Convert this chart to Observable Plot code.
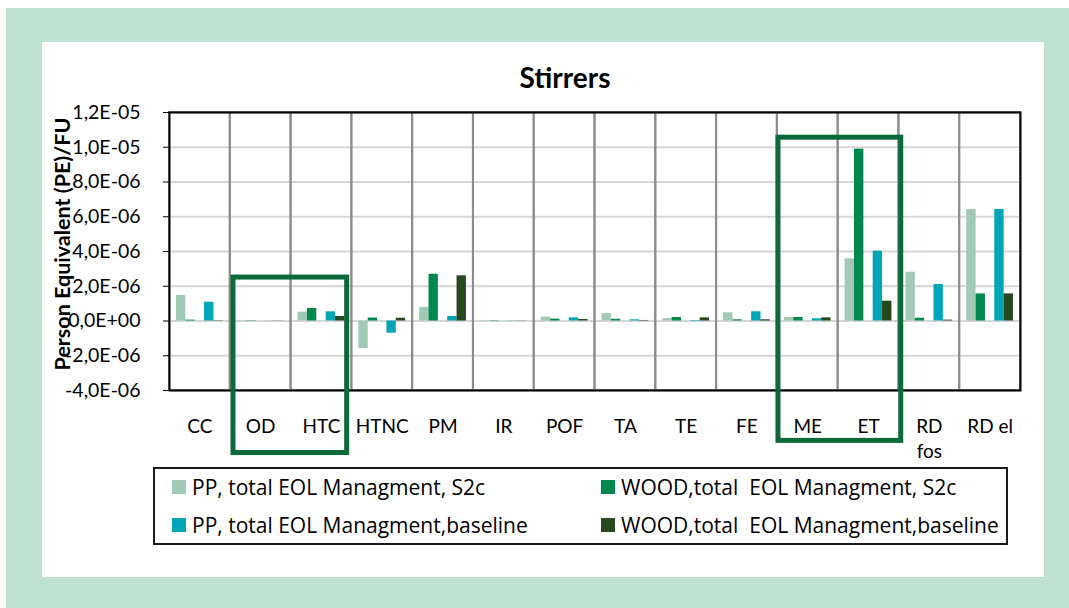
<!DOCTYPE html>
<html>
<head>
<meta charset="utf-8">
<script src="https://cdn.jsdelivr.net/npm/d3@7"></script>
<script src="https://cdn.jsdelivr.net/npm/@observablehq/plot@0.6"></script>
<style>
  html, body { margin: 0; padding: 0; }
  body { width: 1069px; height: 608px; position: relative; overflow: hidden; background: #fff; font-family: Lato, "Noto Sans", sans-serif; }
  #mint { position: absolute; left: 6px; top: 8px; right: 0; bottom: 0; background: #bfe1d1; }
  #white { position: absolute; left: 42px; top: 42px; width: 1002px; height: 535px; background: #fff; }
  #title { position: absolute; left: 465px; top: 60px; width: 200px; text-align: center; font-weight: bold; font-size: 28px; line-height: 34px; color: #000; }
  #chart { position: absolute; left: 0; top: 0; }
  #legend { position: absolute; left: 153px; top: 467px; width: 855px; height: 78px; border: 2px solid #1a1a1a; box-sizing: border-box; }
  .item { position: absolute; display: flex; align-items: center; height: 26px; font-family: "Open Sans", Lato, sans-serif; font-size: 21px; white-space: pre; color: #000; }
  .sw { width: 14px; height: 14px; margin-right: 6px; flex: none; }
</style>
</head>
<body>
<div id="mint"></div>
<div id="white"></div>
<div id="title">Stirrers</div>
<div id="chart"></div>
<div id="legend"></div>
<script>
// ---- data ----
const categories = ["CC","OD","HTC","HTNC","PM","IR","POF","TA","TE","FE","ME","ET","RD fos","RD el"];
const categoryLabels = ["CC","OD","HTC","HTNC","PM","IR","POF","TA","TE","FE","ME","ET","RD\nfos","RD el"];
const seriesNames = [
  "PP, total EOL Managment, S2c",
  "WOOD,total  EOL Managment, S2c",
  "PP, total EOL Managment,baseline",
  "WOOD,total  EOL Managment,baseline"
];
const seriesColors = ["#a2c9b5", "#00894c", "#00a6b5", "#26481d"];
// slot order inside each category group (Excel had an empty slot in the middle)
const slotOrder = [seriesNames[0], seriesNames[1], "", seriesNames[2], seriesNames[3]];

const ppS2c    = [1.47e-6, 0.02e-6, 0.51e-6, -1.58e-6, 0.78e-6, 0.02e-6, 0.22e-6, 0.43e-6, 0.14e-6, 0.47e-6, 0.20e-6, 3.58e-6, 2.81e-6, 6.42e-6];
const woodS2c  = [0.05e-6, 0.02e-6, 0.72e-6,  0.17e-6, 2.69e-6, 0.02e-6, 0.11e-6, 0.10e-6, 0.20e-6, 0.07e-6, 0.20e-6, 9.89e-6, 0.16e-6, 1.56e-6];
const ppBase   = [1.08e-6, 0.01e-6, 0.53e-6, -0.70e-6, 0.26e-6, 0.01e-6, 0.18e-6, 0.07e-6, 0.03e-6, 0.53e-6, 0.13e-6, 4.02e-6, 2.10e-6, 6.42e-6];
const woodBase = [0.02e-6, 0.01e-6, 0.26e-6,  0.16e-6, 2.60e-6, 0.01e-6, 0.09e-6, 0.03e-6, 0.18e-6, 0.07e-6, 0.18e-6, 1.14e-6, 0.05e-6, 1.56e-6];
const seriesValues = [ppS2c, woodS2c, ppBase, woodBase];

const yTicks = [-4e-6, -2e-6, 0, 2e-6, 4e-6, 6e-6, 8e-6, 10e-6, 12e-6];
const yTickLabels = ["-4,0E-06","-2,0E-06","0,0E+00","2,0E-06","4,0E-06","6,0E-06","8,0E-06","1,0E-05","1,2E-05"];
const yLabel = "Person Equivalent (PE)/FU";

// highlight boxes (annotation)
const boxFrom = ["OD", "ME"];
const boxTo = ["HTC", "ET"];
const boxTop = [2.5e-6, 10.55e-6];
const boxBottom = [-7.6e-6, -6.9e-6];

// ---- layout ----
const W = 1069, H = 462;
const mL = 169, mR = 49, mT = 112, mB = 72;
const bw = (W - mL - mR) / categories.length;
const sub = d3.scaleBand().domain(slotOrder).range([0, bw]).paddingInner(0).paddingOuter(0.75);

const rows = [];
seriesNames.forEach((s, k) => categories.forEach((c, i) => rows.push({cat: c, series: s, value: seriesValues[k][i]})));

const barMarks = seriesNames.map((s, k) => Plot.barY(rows.filter(r => r.series === s), {
  x: "cat", y: "value",
  fill: seriesColors[k],
  insetLeft: sub(s),
  insetRight: bw - sub(s) - sub.bandwidth()
}));

const boxMarks = boxFrom.map((f, j) => {
  const span = categories.indexOf(boxTo[j]) - categories.indexOf(f);
  return Plot.barY([{cat: f, top: boxTop[j], bottom: boxBottom[j]}], {
    x: "cat", y1: "bottom", y2: "top",
    fill: "none", stroke: "#0b6a39", strokeWidth: 5,
    insetLeft: j === 0 ? 3.2 : 1.1,
    insetRight: -span * bw + (j === 0 ? 4.7 : -2.3)
  });
});

const yMin = yTicks[0], yMax = yTicks[yTicks.length - 1];

const chart = Plot.plot({
  width: W, height: H,
  marginLeft: mL, marginRight: mR, marginTop: mT, marginBottom: mB,
  style: {background: "transparent", fontFamily: "Lato, 'Noto Sans', sans-serif", fontSize: "19px", color: "#000", overflow: "visible"},
  x: {domain: categories, padding: 0, round: false, label: null},
  y: {domain: [yMin, yMax], label: null},
  marks: [
    Plot.ruleY(yTicks, {stroke: "#d6d6d6", strokeWidth: 2}),
    Plot.barY(categories, {x: d => d, y1: yMin, y2: yMax, fill: "none", stroke: "#8c8c8c", strokeWidth: 2}),
    ...barMarks,
    Plot.frame({stroke: "#000", strokeWidth: 2}),
    ...boxMarks,
    Plot.axisX({tickSize: 0, tickPadding: 25, fontSize: 19, lineHeight: 1.3, tickFormat: (d) => categoryLabels[categories.indexOf(d)], label: null}),
    Plot.axisY({ticks: yTicks, tickFormat: (d) => yTickLabels[yTicks.indexOf(d)], tickSize: 6, tickPadding: 23, fontSize: 19.5, stroke: "#000", label: null}),
    Plot.text([yLabel], {frameAnchor: "left", textAnchor: "middle", lineAnchor: "middle", rotate: -90, dx: -106, dy: -7.5, fontWeight: "bold", fontSize: 21.5, fill: "#000"})
  ]
});
document.getElementById("chart").appendChild(chart);

// legend
const legend = document.getElementById("legend");
seriesNames.forEach((s, i) => {
  const col = i % 2, row = Math.floor(i / 2);
  const item = document.createElement("div");
  item.className = "item";
  item.style.left = (col === 0 ? 17 : 446) + "px";
  item.style.top = (row === 0 ? 5 : 43) + "px";
  const sw = document.createElement("span");
  sw.className = "sw";
  sw.style.background = seriesColors[i];
  const t = document.createElement("span");
  t.textContent = s;
  item.appendChild(sw);
  item.appendChild(t);
  legend.appendChild(item);
});
</script>
</body>
</html>
